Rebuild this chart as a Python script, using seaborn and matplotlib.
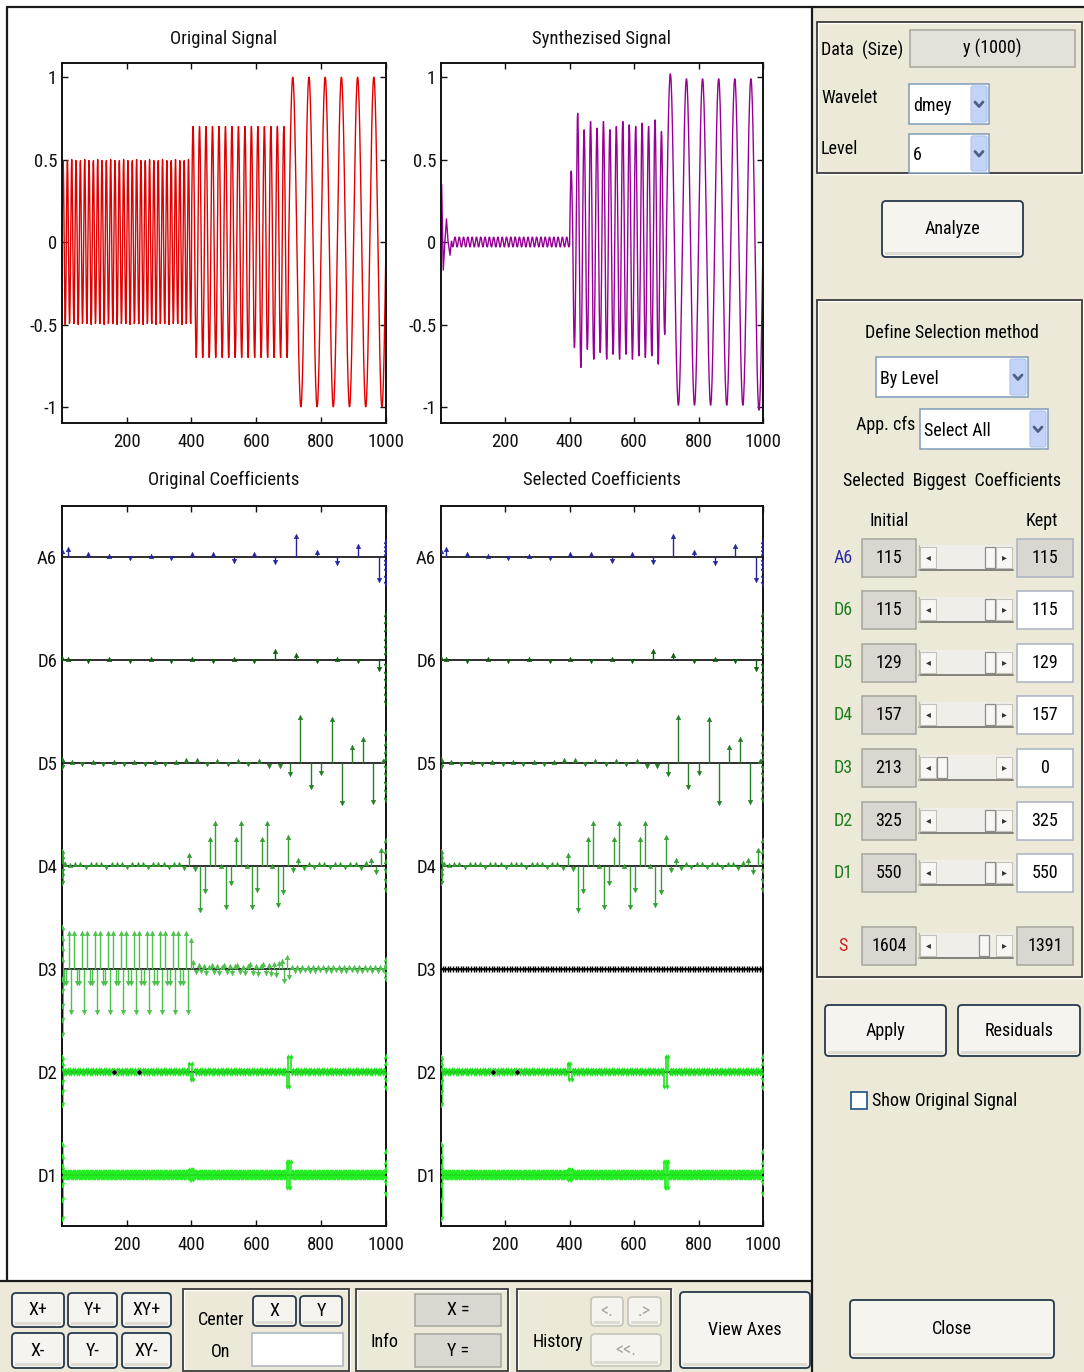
import numpy as np
import pandas as pd
import matplotlib
matplotlib.use("Agg")
import matplotlib.pyplot as plt
import seaborn as sns
from matplotlib.patches import Rectangle, FancyBboxPatch

# ------------------------------------------------------------------ data
x_range = [1, 1000]
x_ticks = [200, 400, 600, 800, 1000]
signal_yticks = [-1, -0.5, 0, 0.5, 1]
signal_yticklabels = ['-1', '-0.5', '0', '0.5', '1']

# original signal: three sinusoidal segments
seg_start = [1, 400, 700]
seg_end = [400, 700, 1000]
orig_amp = [0.5, 0.7, 1.0]
seg_period = [40 / 3, 20.0, 50.0]

# synthesized signal (D3 removed)
synth_head_t = [1, 3, 8, 13, 18, 23, 29, 33]
synth_head_v = [0.05, 0.35, -0.17, 0.0, 0.14, 0.0, -0.08, 0.0]
synth_ripple_amp = 0.03
synth_seg2_peaks = [0.43, 0.78, 0.68, 0.73, 0.69, 0.73, 0.68, 0.70, 0.73, 0.71, 0.70, 0.72, 0.70, 0.74, 0.67]
synth_seg2_troughs = [-0.64, -0.76, -0.65, -0.71, -0.67, -0.71, -0.68, -0.71, -0.68, -0.71, -0.69, -0.70, -0.69, -0.74, -0.56]
synth_seg3_peaks = [1.02, 0.99, 0.99, 0.99, 0.99, 0.99]
synth_seg3_troughs = [-0.99, -0.99, -0.99, -0.99, -0.99, -1.02]

# coefficient rows
levels = ['A6', 'D6', 'D5', 'D4', 'D3', 'D2', 'D1']
level_rows = [7, 6, 5, 4, 3, 2, 1]
level_colors = ['#24249c', '#0c5e0c', '#237f23', '#31a031', '#4cc04c', '#1fe01f', '#22ee22']
edge_left_x = 2
edge_right_x = 999

a6_pos = [2, 18, 82, 146, 210, 274, 338, 402, 466, 530, 594, 658, 722, 786, 850, 914, 978]
a6_val = [0.06, 0.08, 0.03, 0.01, -0.01, 0.01, -0.01, 0.03, 0.03, -0.03, 0.03, -0.04, 0.21, 0.05, -0.05, 0.11, -0.22]
a6_edge_right = [0.16, 0.12, 0.08, 0.04, -0.04, -0.08, -0.13, -0.2, -0.26]

d6_pos = [2, 18, 82, 146, 210, 274, 338, 402, 466, 530, 594, 658, 722, 786, 850, 914, 978]
d6_val = [0.02, 0.01, -0.01, 0.01, -0.01, 0.01, -0.01, 0.01, -0.01, 0.01, -0.01, 0.09, 0.055, -0.01, 0.01, -0.01, -0.08]
d6_edge_right = [0.45, 0.38, 0.3, 0.22, 0.15, 0.08, -0.06, -0.13, -0.2, -0.28, -0.35, -0.42]

d5_pos = list(range(32, 993, 32))
d5_val = [0.01, -0.01, 0.01, -0.01, 0.01, -0.01, 0.01, -0.01, 0.01, -0.01, 0.01,
          0.03, 0.03, -0.01, 0.02, -0.01, 0.02, -0.01, 0.02, -0.03, -0.03,
          -0.11, 0.45, -0.23, -0.10, 0.43, -0.39, 0.16, 0.23, -0.38, 0.02]
d5_edge_left = [0.04, -0.04]
d5_edge_right = [0.29, 0.2, 0.12, 0.05, -0.05, -0.12, -0.2, -0.28, -0.36]

d4_pos = list(range(10, 987, 16))
d4_val = [0.02, 0.01, 0.02, 0.02, -0.01, 0.02, 0.02, 0.02, -0.01, 0.02, 0.02, 0.02,
          -0.01, 0.02, 0.02, 0.02, -0.01, 0.02, 0.02, 0.02, -0.01, 0.02, 0.02,
          -0.02, 0.11, -0.03, -0.43, -0.24, 0.26, 0.42, 0.0, -0.40, -0.17, 0.26, 0.42,
          0.0, -0.40, -0.23, 0.26, 0.42, 0.0, -0.38, -0.25, 0.28, -0.04, 0.06, -0.02,
          0.02, -0.01, 0.02, 0.02, -0.01, 0.02, 0.02, -0.01, 0.02, 0.02, -0.02, 0.03,
          0.06, -0.06, 0.16]
d4_edge_left = [0.15, 0.1, 0.05, -0.05, -0.1, -0.17]
d4_edge_right = [0.25, 0.15, 0.05, -0.05, -0.15, -0.23]

d3_pos = list(range(6, 999, 8))
d3_val = [-0.14, -0.14, 0.35, -0.42, 0.35, -0.14, -0.14, 0.35, -0.42, 0.35,
          -0.14, -0.14, 0.35, -0.42, 0.35, -0.14, -0.14, 0.35, -0.42, 0.35,
          -0.14, -0.14, 0.35, -0.42, 0.35, -0.14, -0.14, 0.35, -0.42, 0.35,
          -0.14, -0.14, 0.35, -0.42, 0.35, -0.14, -0.14, 0.35, -0.42, 0.35,
          -0.14, -0.14, 0.35, -0.42, 0.35, -0.14, -0.14, 0.35, -0.42, 0.28,
          0.07,
          -0.03, 0.04, -0.02, 0.03, -0.04, 0.02, 0.04, -0.03, 0.03, -0.04,
          0.02, 0.04, -0.03, 0.03, -0.04, 0.03, 0.04, -0.03, 0.02, -0.04,
          0.03, 0.05, -0.04, 0.03, -0.05, 0.03, 0.05, -0.04, 0.04, -0.05,
          0.05, -0.06, 0.06,
          0.08, -0.12, 0.12, -0.08,
          0.02, -0.02, 0.015, -0.02, 0.02, -0.015, 0.02, -0.02, 0.015, -0.02,
          0.02, -0.015, 0.02, -0.02, 0.015, -0.02, 0.02, -0.015, 0.02, -0.02,
          0.015, -0.02, 0.02, -0.015, 0.02, -0.02, 0.015, -0.02, 0.02, -0.015,
          0.02, -0.02, 0.015, -0.02, 0.02, -0.015, 0.02]
d3_edge_left = [0.41, 0.3, 0.2, 0.1, -0.1, -0.22, -0.36, -0.5, -0.64]
d3_edge_right = [0.1, 0.05, -0.05, -0.1]

d2_pos = list(range(2, 1000, 4))
d2_band_amp = 0.025
d2_bump_centre = [400, 700]
d2_bump_amp = [0.08, 0.15]
d2_black_pos = [161, 238]
d2_edge_left = [0.14, 0.08, -0.1, -0.2, -0.32]
d2_edge_right = [0.15, 0.08, -0.08, -0.16]

d1_pos = list(range(2, 1001, 2))
d1_band_amp = 0.035
d1_bump_centre = [400, 700]
d1_bump_amp = [0.05, 0.13]
d1_edge_left = [0.3, 0.18, 0.08, -0.1, -0.25, -0.43]
d1_edge_right = [0.23, 0.12, 0.06, -0.08, -0.19]

# right-panel table
initial_counts = [115, 115, 129, 157, 213, 325, 550]
kept_counts = [115, 115, 129, 157, 0, 325, 550]
total_initial = 1604
total_kept = 1391

# ------------------------------------------------------------------ derived series
t = np.arange(x_range[0], x_range[1] + 1)
orig = np.zeros(t.size)
for i, (s, e, a, p) in enumerate(zip(seg_start, seg_end, orig_amp, seg_period)):
    m = ((t >= s) if i == 0 else (t > s)) & (t <= e)
    orig[m] = a * np.sin(2 * np.pi * (t[m] - s) / p)

ts = t[t > synth_head_t[-1]]
sv = np.zeros(ts.size)
m1 = ts <= seg_end[0]
sv[m1] = synth_ripple_amp * np.sin(2 * np.pi * (ts[m1] - seg_start[0]) / seg_period[0])
for k, (pk, tr) in enumerate(((synth_seg2_peaks, synth_seg2_troughs),
                              (synth_seg3_peaks, synth_seg3_troughs)), start=1):
    s, e, p = seg_start[k], seg_end[k], seg_period[k]
    m = (ts > s) & (ts <= e)
    ph = (ts[m] - s) / p
    cyc = np.minimum(np.floor(ph).astype(int), len(pk) - 1)
    w = np.sin(2 * np.pi * ph)
    amp = np.where(w >= 0, np.asarray(pk)[cyc], -np.asarray(tr)[cyc])
    sv[m] = amp * w
synth_t = np.concatenate([synth_head_t, ts])
synth_v = np.concatenate([synth_head_v, sv])


def band_values(pos, band, centres, bumps):
    pos = np.asarray(pos, float)
    amp = np.full(pos.size, band)
    for c, b in zip(centres, bumps):
        amp[np.abs(pos - c) <= 6] = b
    sign = np.where(np.arange(pos.size) % 2 == 0, 1.0, -1.0)
    return amp * sign


d2_val = band_values(d2_pos, d2_band_amp, d2_bump_centre, d2_bump_amp)
d1_val = band_values(d1_pos, d1_band_amp, d1_bump_centre, d1_bump_amp)

# ------------------------------------------------------------------ style
sns.set_theme(style="white")
plt.rcParams['font.family'] = ['Roboto Condensed', 'DejaVu Sans']
plt.rcParams['axes.unicode_minus'] = False

W, H = 1084, 1372
BEIGE = '#ECE9D8'
fig = plt.figure(figsize=(W / 100, H / 100), dpi=100, facecolor=BEIGE)

gui = fig.add_axes([0, 0, 1, 1])
gui.set_xlim(0, W)
gui.set_ylim(H, 0)
gui.axis('off')


def axes_px(x0, y0, x1, y1):
    return fig.add_axes([x0 / W, 1 - y1 / H, (x1 - x0) / W, (y1 - y0) / H])


# white plotting area with border
gui.add_patch(Rectangle((0, 0), 812, 1281, fc='white', ec='none'))
gui.add_patch(Rectangle((0, 0), W, 7, fc='white', ec='none'))
gui.plot([7, W], [7, 7], color='#1a1a1a', lw=1.6)
gui.plot([7, 7], [7, 1281], color='#1a1a1a', lw=1.6)
gui.plot([0, 812], [1281, 1281], color='#1a1a1a', lw=1.6)
gui.plot([812, 812], [7, H], color='#1a1a1a', lw=1.6)

FS = 13.5
GFS = 13


def style_axes(ax):
    ax.set_facecolor('white')
    for sp in ax.spines.values():
        sp.set_visible(True)
        sp.set_color('#111111')
        sp.set_linewidth(1.4)
    ax.tick_params(direction='in', length=4, width=1, top=True, right=True,
                   bottom=True, left=True, labelsize=FS, colors='#111111')
    ax.tick_params(axis='x', pad=7)
    ax.tick_params(axis='y', pad=3.5)
    ax.grid(False)
    ax.set_xlabel('')
    ax.set_ylabel('')


def signal_panel(ax, x, y, color, title):
    sns.lineplot(x=x, y=y, ax=ax, color=color, lw=1.0, estimator=None, sort=False)
    ax.set_xlim(x_range[0], x_range[1])
    ax.set_ylim(-1.097, 1.085)
    ax.set_xticks(x_ticks)
    ax.set_xticklabels([str(v) for v in x_ticks])
    ax.set_yticks(signal_yticks)
    ax.set_yticklabels(signal_yticklabels)
    style_axes(ax)
    ax.set_title(title, fontsize=FS, pad=14, color='#111111')


def stems(ax, pos, vals, row, color, s=10, lw=1.0, markers=True):
    pos = np.asarray(pos, float)
    vals = np.asarray(vals, float)
    ax.vlines(pos, row, row + vals, colors=color, lw=lw, zorder=2)
    if markers:
        up = vals >= 0
        for mask, mk in ((up, '^'), (~up, 'v')):
            if mask.any():
                sns.scatterplot(x=pos[mask], y=row + vals[mask], marker=mk, s=s,
                                color=color, edgecolor=color, linewidth=0.4,
                                ax=ax, legend=False, zorder=3)


def edge(ax, x, vals, row, color):
    stems(ax, [x] * len(vals), vals, row, color, s=12, lw=1.8)


def coef_panel(ax, title, selected):
    ax.set_xlim(x_range[0], x_range[1])
    ax.set_ylim(0.5, 7.5)
    for r in level_rows:
        ax.axhline(r, color='#1e1e1e', lw=1.3, zorder=1)
    cA6, cD6, cD5, cD4, cD3, cD2, cD1 = level_colors
    stems(ax, a6_pos, a6_val, 7, cA6)
    edge(ax, edge_right_x, a6_edge_right, 7, cA6)
    stems(ax, d6_pos, d6_val, 6, cD6)
    edge(ax, edge_right_x, d6_edge_right, 6, cD6)
    stems(ax, d5_pos, d5_val, 5, cD5)
    edge(ax, edge_left_x, d5_edge_left, 5, cD5)
    edge(ax, edge_right_x, d5_edge_right, 5, cD5)
    stems(ax, d4_pos, d4_val, 4, cD4)
    edge(ax, edge_left_x, d4_edge_left, 4, cD4)
    edge(ax, edge_right_x, d4_edge_right, 4, cD4)
    if selected:
        sns.scatterplot(x=np.asarray(d3_pos, float), y=np.full(len(d3_pos), 3.0), marker='+',
                        s=22, color='black', linewidth=1.0, ax=ax, legend=False, zorder=3)
    else:
        stems(ax, d3_pos, d3_val, 3, cD3)
        edge(ax, edge_left_x, d3_edge_left, 3, cD3)
        edge(ax, edge_right_x, d3_edge_right, 3, cD3)
    stems(ax, d2_pos, d2_val, 2, cD2, s=6, lw=1.2)
    edge(ax, edge_left_x, d2_edge_left, 2, cD2)
    edge(ax, edge_right_x, d2_edge_right, 2, cD2)
    sns.scatterplot(x=d2_black_pos, y=[2.0] * len(d2_black_pos), color='black', s=14,
                    ax=ax, legend=False, zorder=4)
    stems(ax, d1_pos, d1_val, 1, cD1, s=6, lw=1.2)
    edge(ax, edge_left_x, d1_edge_left, 1, cD1)
    edge(ax, edge_right_x, d1_edge_right, 1, cD1)
    ax.set_xticks(x_ticks)
    ax.set_xticklabels([str(v) for v in x_ticks])
    ax.set_yticks(level_rows)
    ax.set_yticklabels(levels)
    style_axes(ax)
    ax.tick_params(axis='y', length=0)
    ax.set_title(title, fontsize=FS, pad=15, color='#111111')


ax1 = axes_px(62, 63, 386, 423)
signal_panel(ax1, t, orig, '#e00000', 'Original Signal')
ax2 = axes_px(441, 63, 763, 423)
signal_panel(ax2, synth_t, synth_v, '#970097', 'Synthezised Signal')
ax3 = axes_px(62, 506, 386, 1226)
coef_panel(ax3, 'Original Coefficients', False)
ax4 = axes_px(441, 506, 763, 1226)
coef_panel(ax4, 'Selected Coefficients', True)

# ------------------------------------------------------------------ GUI widgets


def txt(x, y, s, ha='left', color='black', size=GFS):
    gui.text(x, y, s, ha=ha, va='center', fontsize=size, color=color)


def frame(x0, y0, x1, y1):
    gui.add_patch(Rectangle((x0 + 1.2, y0 + 1.2), x1 - x0, y1 - y0, fill=False, ec='white', lw=1))
    gui.add_patch(Rectangle((x0, y0), x1 - x0, y1 - y0, fill=False, ec='#3c3c3c', lw=1.3))


def button(x0, y0, x1, y1, label, color='black', ec='#26384C'):
    gui.add_patch(FancyBboxPatch((x0, y0), x1 - x0, y1 - y0,
                                 boxstyle='round,pad=0,rounding_size=4',
                                 fc='#F5F4EF', ec=ec, lw=1.3))
    gui.add_patch(Rectangle((x0 + 3, y1 - 5), x1 - x0 - 6, 3, fc='#DEDCD2', ec='none'))
    txt((x0 + x1) / 2, (y0 + y1) / 2, label, ha='center', color=color)


def field(x0, y0, x1, y1, text, fc, ec='#A7A69E', ha='center'):
    gui.add_patch(Rectangle((x0, y0), x1 - x0, y1 - y0, fc=fc, ec=ec, lw=1.1))
    tx = (x0 + x1) / 2 if ha == 'center' else x0 + 4
    txt(tx, (y0 + y1) / 2, text, ha=ha)


def popup(x0, y0, x1, y1, text):
    gui.add_patch(Rectangle((x0, y0), x1 - x0, y1 - y0, fc='white', ec='#7F9DB9', lw=1.1))
    bx = x1 - 18
    gui.add_patch(FancyBboxPatch((bx, y0 + 2), 16, y1 - y0 - 4,
                                 boxstyle='round,pad=0,rounding_size=2',
                                 fc='#C3D4F8', ec='#AFC3EE', lw=0.8))
    cx, cy = bx + 8, (y0 + y1) / 2
    gui.plot([cx - 4, cx, cx + 4], [cy - 2, cy + 2.5, cy - 2], color='#4D6185', lw=2,
             solid_capstyle='round')
    txt(x0 + 4, cy + 2, text)


def slider(x0, y0, x1, y1, frac):
    gui.add_patch(Rectangle((x0, y0), x1 - x0, y1 - y0, fc='#EFEEE9', ec='none'))
    gui.plot([x0, x1], [y1, y1], color='#7a7a74', lw=1.3)
    gui.plot([x0, x0], [y0, y1], color='#b8b6ae', lw=1.0)
    bw = 16
    for bx, sym in ((x0 + 1, '◂'), (x1 - bw - 1, '▸')):
        gui.add_patch(Rectangle((bx, y0 + 2), bw, y1 - y0 - 4, fc='#F8F7F3', ec='#C4C2B8', lw=0.8))
        gui.text(bx + bw / 2, (y0 + y1) / 2, sym, ha='center', va='center', fontsize=7,
                 color='#333333', family='DejaVu Sans')
    tw = 10
    tx = x0 + bw + 2 + frac * (x1 - x0 - 2 * bw - 4 - tw)
    gui.add_patch(Rectangle((tx, y0 + 2), tw, y1 - y0 - 4, fc='#F8F7F3', ec='#8f8d86', lw=0.9))


# frame 1
frame(817, 22, 1082, 173)
txt(821, 50, 'Data  (Size)')
field(910, 30, 1075, 67, 'y (1000)', '#E3E1D9')
txt(821, 98, 'Wavelet')
popup(909, 84, 989, 124, 'dmey')
txt(821, 149, 'Level')
popup(909, 134, 989, 173, '6')

button(882, 201, 1023, 257, 'Analyze')

# frame 2
frame(817, 300, 1082, 977)
txt(952, 333, 'Define Selection method', ha='center')
popup(876, 357, 1028, 397, 'By Level')
txt(856, 425, 'App. cfs')
popup(920, 409, 1048, 449, 'Select All')
txt(952, 481, 'Selected  Biggest  Coefficients', ha='center')
txt(889, 521, 'Initial', ha='center')
txt(1042, 521, 'Kept', ha='center')

row_y = [558, 610, 663, 715, 768, 821, 873]
label_colors = ['#2a2aa8', '#1d7d1d', '#1d7d1d', '#1d7d1d', '#1d7d1d', '#1d7d1d', '#1d7d1d']
for lvl, y, lc, ini, kept in zip(levels, row_y, label_colors, initial_counts, kept_counts):
    txt(843, y, lvl, ha='center', color=lc)
    field(862, y - 19, 916, y + 19, str(ini), '#D9D7CF')
    slider(919, y - 13, 1013, y + 12, kept / ini)
    field(1017, y - 19, 1073, y + 19, str(kept), '#D9D7CF' if lvl == 'A6' else 'white',
          ec='#A9B3C2')
sy = 946
txt(843, sy, 'S', ha='center', color='#d02020')
field(862, sy - 19, 916, sy + 19, str(total_initial), '#D9D7CF')
slider(919, sy - 13, 1013, sy + 12, total_kept / total_initial)
field(1017, sy - 19, 1073, sy + 19, str(total_kept), '#D9D7CF')

button(825, 1005, 946, 1056, 'Apply')
button(958, 1005, 1080, 1056, 'Residuals')
gui.add_patch(Rectangle((851, 1092), 16, 17, fc='white', ec='#1C5180', lw=1.2))
txt(872, 1101, 'Show Original Signal')
button(850, 1300, 1054, 1358, 'Close')

# bottom strip
for x0, x1, a, b in ((12, 64, 'X+', 'X-'), (68, 117, 'Y+', 'Y-'), (122, 171, 'XY+', 'XY-')):
    button(x0, 1293, x1, 1327, a)
    button(x0, 1333, x1, 1368, b)
frame(183, 1289, 349, 1371)
txt(221, 1320, 'Center', ha='center')
txt(221, 1352, 'On', ha='center')
button(253, 1296, 296, 1326, 'X')
button(300, 1296, 342, 1326, 'Y')
field(252, 1333, 343, 1366, '', 'white', ec='#A9B3C2')
frame(356, 1289, 508, 1371)
txt(384, 1342, 'Info', ha='center')
field(415, 1294, 501, 1326, 'X =', '#D9D7CF')
field(415, 1334, 501, 1367, 'Y =', '#D9D7CF')
frame(517, 1289, 671, 1371)
txt(558, 1342, 'History', ha='center')
button(591, 1297, 623, 1326, '<.', color='#a8a8a0', ec='#c9c7bd')
button(628, 1297, 661, 1326, '.>', color='#a8a8a0', ec='#c9c7bd')
button(591, 1334, 661, 1366, '<<.', color='#a8a8a0', ec='#c9c7bd')
button(680, 1292, 810, 1368, 'View Axes')

fig.savefig('out.png', dpi=100, facecolor=BEIGE)
